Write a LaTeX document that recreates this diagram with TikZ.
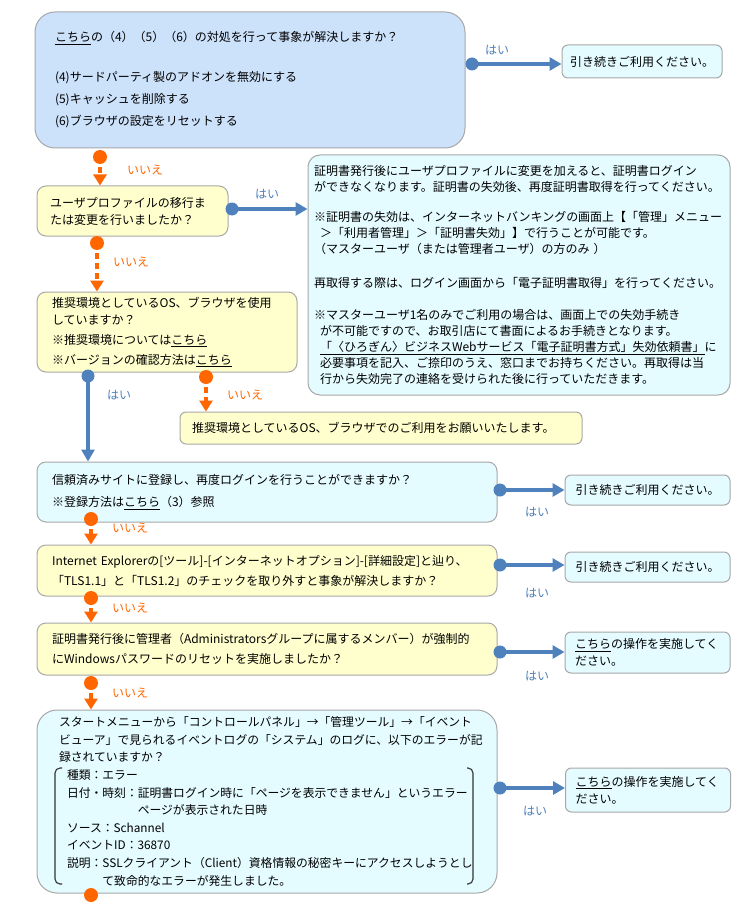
\documentclass[tikz,border=0pt]{standalone}
\usepackage{fontspec}
\setmainfont{Noto Sans CJK JP}
\usepackage{tikz}
\usetikzlibrary{arrows.meta}

\definecolor{yesblue}{RGB}{79,129,189}
\definecolor{noorange}{RGB}{255,102,0}
\definecolor{boxgray}{RGB}{168,168,168}
\definecolor{topblue}{RGB}{204,225,250}
\definecolor{askyellow}{RGB}{255,255,206}
\definecolor{tipcyan}{RGB}{228,251,255}

\tikzset{
	box/.style={draw=boxgray, line width=1pt, rounded corners=9pt, align=left, inner ysep=2pt, font=\fontsize{12}{17}\selectfont},
	askbox/.style={box, fill=askyellow},
	tipbox/.style={box, fill=tipcyan},
	endbox/.style={box, fill=tipcyan, rounded corners=6pt, align=center, minimum width=165pt, minimum height=31pt},
	yesdot/.style={circle, fill=yesblue, inner sep=0pt, minimum size=13pt},
	nodot/.style={circle, fill=noorange, inner sep=0pt, minimum size=14pt},
	yesline/.style={draw=yesblue, line width=4pt, -{Triangle[length=12pt,width=13pt]}},
	noline/.style={draw=noorange, line width=4pt, dash pattern=on 6pt off 4pt, -{Triangle[length=11pt,width=13pt]}},
	yestxt/.style={text=yesblue, inner sep=0pt, font=\fontsize{12}{14}\selectfont},
	notxt/.style={text=noorange, inner sep=0pt, font=\fontsize{12}{14}\selectfont},
	bracket/.style={draw=black!80, line width=1.1pt, rounded corners=5pt},
}

\begin{document}
\begin{tikzpicture}[x=1pt, y=-1pt]
	\path[use as bounding box, fill=white] (0,0) rectangle (740,904);

	% questions
	\node[box, fill=topblue, rounded corners=20pt, text width=390pt, inner xsep=20pt, minimum height=136pt] (q1) at (250,80)
		{\underline{こちら}の（4）（5）（6）の対処を行って事象が解決しますか？\\[23pt]
		(4)サードパーティ製のアドオンを無効にする\\[5pt]
		(5)キャッシュを削除する\\[5pt]
		(6)ブラウザの設定をリセットする};
	\node[askbox, text width=165pt, inner xsep=13pt, minimum height=50pt] (q2) at (132.5,211)
		{ユーザプロファイルの移行ま\\たは変更を行いましたか？};
	\node[askbox, text width=230pt, inner xsep=15pt, minimum height=80pt] (q3) at (167,332)
		{推奨環境としているOS、ブラウザを使用\\
		していますか？\\[3pt]
		※推奨環境については\underline{こちら}\\[3pt]
		※バージョンの確認方法は\underline{こちら}};
	\node[tipbox, text width=430pt, inner xsep=15pt, minimum height=60pt] (q5) at (267,492)
		{信頼済みサイトに登録し、再度ログインを行うことができますか？\\[5pt]
		※登録方法は\underline{こちら}（3）参照};
	\node[askbox, text width=430pt, inner xsep=15pt, minimum height=51pt] (q6) at (267,570.5)
		{Internet Explorerの[ツール]-[インターネットオプション]-[詳細設定]と辿り、\\[3pt]
		「TLS1.1」と「TLS1.2」のチェックを取り外すと事象が解決しますか？};
	\node[askbox, text width=430pt, inner xsep=15pt, minimum height=52pt] (q7) at (267,649)
		{証明書発行後に管理者（Administratorsグループに属するメンバー）が強制的\\[3pt]
		にWindowsパスワードのリセットを実施しましたか？};
	\node[tipbox, rounded corners=20pt, text width=416pt, inner xsep=22pt, minimum height=183pt, font=\fontsize{11.8}{17.6}\selectfont] (q8) at (267,801.5)
		{スタートメニューから「コントロールパネル」→「管理ツール」→「イベント\\
		ビューア」で見られるイベントログの「システム」のログに、以下のエラーが記\\
		録されていますか？\\
		\hspace*{8pt}種類：エラー\\
		\hspace*{8pt}日付・時刻：証明書ログイン時に「ページを表示できません」というエラー\\
		\hspace*{8pt}\phantom{日付・時刻：}ページが表示された日時\\
		\hspace*{8pt}ソース：Schannel\\
		\hspace*{8pt}イベントID：36870\\
		\hspace*{8pt}説明：SSLクライアント（Client）資格情報の秘密キーにアクセスしようとし\\
		\hspace*{8pt}\phantom{説明：}て致命的なエラーが発生しました。};
	\draw[bracket] (62,768) -- (55,768) -- (55,884) -- (62,884);
	\draw[bracket] (467,768) -- (473,768) -- (473,884) -- (467,884);

	% answers
	\node[endbox, minimum width=160pt, minimum height=33pt] (r1) at (642,61.5) {引き続きご利用ください。};
	\node[tipbox, rounded corners=12pt, text width=410pt, inner xsep=6pt, minimum height=240pt, font=\fontsize{12}{16}\selectfont] (r2) at (519,275)
		{証明書発行後にユーザプロファイルに変更を加えると、証明書ログイン\\
		ができなくなります。証明書の失効後、再度証明書取得を行ってください。\\[14pt]
		※証明書の失効は、インターネットバンキングの画面上【「管理」メニュー\\
		\hspace*{6pt}＞「利用者管理」＞「証明書失効」】で行うことが可能です。\\
		（マスターユーザ（または管理者ユーザ）の方のみ ）\\[18pt]
		再取得する際は、ログイン画面から「電子証明書取得」を行ってください。\\[16pt]
		※マスターユーザ1名のみでご利用の場合は、画面上での失効手続き\\
		\hspace*{6pt}が不可能ですので、お取引店にて書面によるお手続きとなります。\\
		\hspace*{6pt}\underline{「〈ひろぎん〉ビジネスWebサービス「電子証明書方式」失効依頼書」}に\\
		\hspace*{6pt}必要事項を記入、ご捺印のうえ、窓口までお持ちください。再取得は当\\
		\hspace*{6pt}行から失効完了の連絡を受けられた後に行っていただきます。};
	\node[askbox, rounded corners=6pt, text width=378pt, inner xsep=12pt, minimum height=32pt] (r3) at (381,428)
		{推奨環境としているOS、ブラウザでのご利用をお願いいたします。};
	\node[endbox, minimum height=30pt] (r5) at (647.5,490) {引き続きご利用ください。};
	\node[endbox, minimum height=30pt] (r6) at (647.5,567) {引き続きご利用ください。};
	\node[tipbox, rounded corners=6pt, text width=145pt, inner xsep=10pt, minimum height=41pt] (r7) at (647.5,652.5)
		{\underline{こちら}の操作を実施してく\\ださい。};
	\node[tipbox, rounded corners=6pt, text width=145pt, inner xsep=10pt, minimum height=44pt] (r8) at (648,790)
		{\underline{こちら}の操作を実施してく\\ださい。};

	% yes
	\node[yesdot] (y1) at (472,64) {};
	\node[yesdot] (y2) at (232,209) {};
	\node[yesdot] (y3) at (88,376) {};
	\node[yesdot] (y5) at (500,490) {};
	\node[yesdot] (y6) at (500,565) {};
	\node[yesdot] (y7) at (500,652) {};
	\node[yesdot] (y8) at (500,788) {};
	\draw[yesline] (y1.center) -- (y1 -| r1.west);
	\draw[yesline] (y2.center) -- (y2 -| r2.west);
	\draw[yesline] (y3.center) -- (y3 |- q5.north);
	\draw[yesline] (y5.center) -- (y5 -| r5.west);
	\draw[yesline] (y6.center) -- (y6 -| r6.west);
	\draw[yesline] (y7.center) -- (y7 -| r7.west);
	\draw[yesline] (y8.center) -- (y8 -| r8.west);
	\node[yestxt] (ty1) at (497,50) {はい};
	\node[yestxt] (ty2) at (267,194) {はい};
	\node[yestxt] (ty3) at (119,395) {はい};
	\node[yestxt] (ty5) at (537,512) {はい};
	\node[yestxt] (ty6) at (537,593) {はい};
	\node[yestxt] (ty7) at (537,676) {はい};
	\node[yestxt] (ty8) at (535,811) {はい};

	% no
	\node[nodot] (n1) at (100,157) {};
	\node[nodot] (n2) at (97,243) {};
	\node[nodot] (n3) at (206,377) {};
	\node[nodot] (n5) at (91,519) {};
	\node[nodot] (n6) at (91,598) {};
	\node[nodot] (n7) at (91,683) {};
	\node[nodot] (n8) at (91,895) {};
	\draw[noline] (n1.center) -- (n1 |- q2.north);
	\draw[noline] (n2.center) -- (n2 |- q3.north);
	\draw[noline] (n3.center) -- (n3 |- r3.north);
	\draw[noline] (n5.center) -- (n5 |- q6.north);
	\draw[noline] (n6.center) -- (n6 |- q7.north);
	\draw[noline] (n7.center) -- (n7 |- q8.north);
	\node[notxt] (tn1) at (145,170) {いいえ};
	\node[notxt] (tn2) at (131,262) {いいえ};
	\node[notxt] (tn3) at (245,395) {いいえ};
	\node[notxt] (tn5) at (130,528) {いいえ};
	\node[notxt] (tn6) at (130,608) {いいえ};
	\node[notxt] (tn7) at (130,693) {いいえ};
\end{tikzpicture}
\end{document}
